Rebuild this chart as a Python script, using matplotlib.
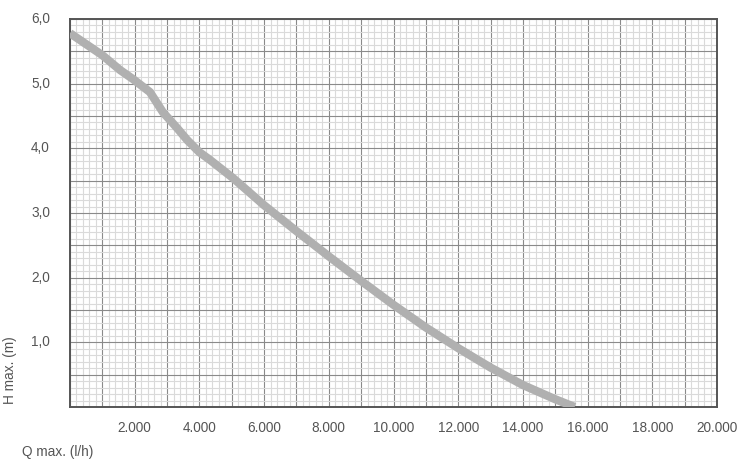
import numpy as np
import matplotlib
matplotlib.use("Agg")
import matplotlib.pyplot as plt
from matplotlib.ticker import MultipleLocator

# pump curve
q_lh = [0, 1000, 1550, 1950, 2470, 2870, 3300, 3620, 4000, 4330, 5040, 6000, 7000,
        8000, 9000, 10000, 11000, 12000, 13000, 14000, 15000, 15600]
h_m = [5.78, 5.44, 5.21, 5.07, 4.87, 4.56, 4.32, 4.13, 3.94, 3.82, 3.54, 3.12, 2.72,
       2.33, 1.95, 1.58, 1.23, 0.91, 0.61, 0.34, 0.12, 0.0]

x_ticks = [2000, 4000, 6000, 8000, 10000, 12000, 14000, 16000, 18000, 20000]
x_labels = ["2.000", "4.000", "6.000", "8.000", "10.000", "12.000", "14.000", "16.000", "18.000", "20.000"]
y_ticks = [1, 2, 3, 4, 5, 6]
y_labels = ["1,0", "2,0", "3,0", "4,0", "5,0", "6,0"]

text_col = "#555555"
plt.rcParams["font.family"] = ["Liberation Sans", "DejaVu Sans"]

fig = plt.figure(figsize=(7.5, 4.66), dpi=100)
ax = fig.add_axes([70 / 750, 1 - 407 / 466, 647 / 750, 388 / 466])

ax.set_xlim(0, 20000)
ax.set_ylim(0, 6)

# grid: major every 1000 / 0.5, minor 5 per major
ax.xaxis.set_major_locator(MultipleLocator(1000))
ax.xaxis.set_minor_locator(MultipleLocator(200))
ax.yaxis.set_major_locator(MultipleLocator(0.5))
ax.yaxis.set_minor_locator(MultipleLocator(0.1))
ax.grid(which="minor", color="#dadada", lw=0.8)
ax.grid(which="major", color="#8a8a8a", lw=0.8)
ax.set_axisbelow(True)
ax.tick_params(which="both", length=0, labelbottom=False, labelleft=False)

for sp in ax.spines.values():
    sp.set_color("#555555")
    sp.set_linewidth(1.4)

ax.plot(q_lh, h_m, color="#b0b0b0", lw=6, solid_capstyle="butt",
        solid_joinstyle="round", zorder=3)

# tick labels as text so grid spacing stays independent
for x, lab in zip(x_ticks, x_labels):
    ax.text(x, -0.32, lab, ha="center", va="center", fontsize=9.8, color=text_col,
            clip_on=False)
for y, lab in zip(y_ticks, y_labels):
    ax.text(-620, y, lab, ha="right", va="center", fontsize=9.8, color=text_col,
            clip_on=False)

fig.text(22 / 750, 1 - 452 / 466, "Q max. (l/h)", ha="left", va="center", fontsize=9.8, color=text_col)
fig.text(10 / 750, 1 - 370 / 466, "H max. (m)", ha="center", va="center", rotation=90,
         fontsize=9.8, color=text_col)

fig.savefig("out.png", dpi=100)
